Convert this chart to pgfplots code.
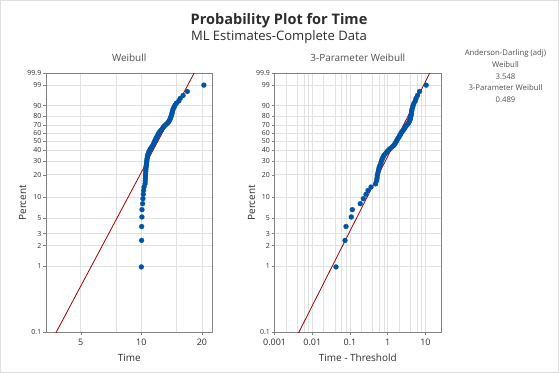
\documentclass[border=0pt]{standalone}
\usepackage{pgfplots}
\usepackage{pgfplotstable}
\pgfplotsset{compat=1.18}
\usepackage{fontspec}
\setmainfont{Open Sans}
\definecolor{ptblue}{RGB}{0,84,166}
\definecolor{fitred}{RGB}{160,0,0}
\definecolor{gridgray}{RGB}{226,226,226}
\definecolor{framegray}{RGB}{130,130,130}
\definecolor{txtgray}{RGB}{80,80,80}
\definecolor{titlegray}{RGB}{45,45,45}

\pgfplotstableread{
pct time d
0.994 9.998 0.0425
2.415 10.029 0.0737
3.835 10.033 0.0783
5.256 10.063 0.1082
6.676 10.070 0.1151
8.097 10.143 0.1876
9.517 10.180 0.2253
10.938 10.221 0.2657
12.358 10.255 0.3002
13.778 10.316 0.3606
15.199 10.430 0.4747
16.619 10.460 0.5046
18.040 10.475 0.5203
19.460 10.485 0.5299
20.881 10.498 0.5430
22.301 10.518 0.5633
23.722 10.532 0.5772
25.142 10.554 0.5988
26.562 10.580 0.6250
27.983 10.607 0.6523
29.403 10.632 0.6767
30.824 10.653 0.6977
32.244 10.683 0.7281
33.665 10.715 0.7598
35.085 10.753 0.7978
36.506 10.819 0.8636
37.926 10.884 0.9294
39.347 10.943 0.9879
40.767 11.038 1.0827
42.188 11.142 1.1866
43.608 11.255 1.3004
45.028 11.380 1.4248
46.449 11.470 1.5146
47.869 11.546 1.5906
49.290 11.615 1.6603
50.710 11.688 1.7327
52.131 11.752 1.7973
53.551 11.831 1.8760
54.972 11.925 1.9700
56.392 12.011 2.0560
57.812 12.101 2.1460
59.233 12.181 2.2261
60.653 12.264 2.3091
62.074 12.394 2.4395
63.494 12.532 2.5770
64.915 12.661 2.7063
66.335 12.797 2.8418
67.756 12.885 2.9296
69.176 13.069 3.1142
70.597 13.266 3.3113
72.017 13.474 3.5195
73.438 13.628 3.6726
74.858 13.741 3.7860
76.278 13.859 3.9036
77.699 13.931 3.9762
79.119 14.005 4.0496
80.540 14.080 4.1247
81.960 14.156 4.2006
83.381 14.207 4.2522
84.801 14.260 4.3053
86.222 14.313 4.3581
87.642 14.421 4.4657
89.063 14.558 4.6034
90.483 14.702 4.7465
91.903 14.939 4.9843
93.324 15.352 5.3968
94.744 15.588 5.6331
96.165 16.128 6.1730
97.585 16.930 6.9754
99.006 20.455 10.500
}\probdata

\pgfplotsset{
  probcommon/.style={
    scale only axis, width=166.4bp, height=259bp,
    ymin=0.1, ymax=99.9,
    ytick={0.1,1,2,3,5,10,20,30,40,50,60,70,80,90,99,99.9},
    yticklabels={0.1,1,2,3,5,10,20,30,40,50,60,70,80,90,99,99.9},
    axis line style={framegray, line width=0.8bp},
    tick style={framegray, line width=0.6bp},
    tick align=outside, major tick length=3bp, minor tick length=0bp,
    xtick pos=lower, ytick pos=left,
    grid=both,
    major grid style={gridgray, line width=0.8bp},
    minor grid style={gridgray, line width=0.8bp},
    yticklabel style={font=\fontsize{7}{8}\selectfont, text=titlegray, inner sep=1.5bp},
    xticklabel style={font=\fontsize{9}{10}\selectfont, text=titlegray},
    every axis title shift=0pt,
    title style={font=\fontsize{10}{12}\selectfont, text=txtgray, at={(axis description cs:0.5,1)}, anchor=center, yshift=16bp},
    xlabel style={font=\fontsize{10}{12}\selectfont, text=titlegray, at={(axis description cs:0.5,0)}, anchor=center, yshift=-25.7bp},
    ylabel style={font=\fontsize{10}{12}\selectfont, text=titlegray, at={(axis description cs:0,0.5)}, anchor=center, rotate=0, yshift=23.5bp},
  },
  ptstyle/.style={only marks, mark=*, mark size=2.5bp, mark options={fill=ptblue, draw=ptblue, line width=0.2bp}},
  fitstyle/.style={fitred, line width=0.8bp, no marks},
}

\begin{document}
\begin{tikzpicture}
\path[use as bounding box] (0bp,0bp) rectangle (559bp,373bp);
\draw[gray!25, line width=0.8bp] (0.6bp,0.6bp) rectangle (558.4bp,372.4bp);

\node[font=\bfseries\fontsize{14.6}{17}\selectfont, text=titlegray] at (279bp,352.3bp) {Probability Plot for Time};
\node[font=\fontsize{13.1}{15}\selectfont, text=titlegray] at (279bp,335.7bp) {ML Estimates-Complete Data};

\node[font=\fontsize{7.8}{11.7}\selectfont, text=txtgray, align=center] at (505.5bp,296.6bp)
  {Anderson-Darling (adj)\\Weibull\\3.548\\3-Parameter Weibull\\0.489};

% Left: Weibull
\begin{axis}[xmode=log,
  y coord trafo/.code={\pgfmathparse{ln(-ln(1-(#1)/100))}},
  probcommon,
  at={(46bp,40.7bp)}, anchor=south west,
  xmin=3.357, xmax=22.55,
  xtick={5,10,20}, xticklabels={5,10,20},
  minor xtick={7.5,15},
  title={Weibull}, xlabel={Time}, ylabel={Percent}]
  \addplot[fitstyle] coordinates {(3.72,0.1) (18.29,99.9)};
  \addplot[ptstyle] table[x=time, y=pct] {\probdata};
\end{axis}

% Right: 3-parameter Weibull
\begin{axis}[xmode=log,
  y coord trafo/.code={\pgfmathparse{ln(-ln(1-(#1)/100))}},
  probcommon,
  ylabel style={yshift=-0.5bp},
  at={(274.6bp,40.7bp)}, anchor=south west,
  xmin=0.001, xmax=25.9,
  xtick={0.001,0.01,0.1,1,10}, xticklabels={0.001,0.01,0.1,1,10},
  minor xtick={0.002,0.004,0.006,0.008,0.02,0.04,0.06,0.08,0.2,0.4,0.6,0.8,2,4,6,8},
  title={3-Parameter Weibull}, xlabel={Time - Threshold}, ylabel={Percent}]
  \addplot[fitstyle] coordinates {(0.0041,0.1) (13.0,99.9)};
  \addplot[ptstyle] table[x=d, y=pct] {\probdata};
\end{axis}
\end{tikzpicture}
\end{document}
